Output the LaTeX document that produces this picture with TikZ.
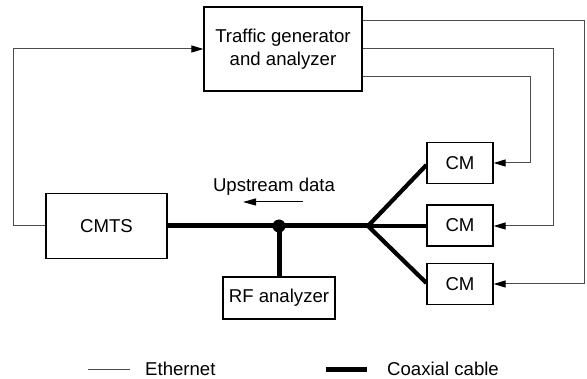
\documentclass[tikz,border=0pt]{standalone}
\usepackage{fontspec}
\setmainfont{Liberation Sans}
\usetikzlibrary{arrows.meta}
\begin{document}
\begin{tikzpicture}[x=1pt,y=-1pt,
  every node/.style={font=\fontsize{18.6}{23}\selectfont},
  box/.style={draw,line width=1.2pt,rectangle,inner sep=0pt,align=center},
  eth/.style={line width=1pt,draw=black!70},
  tip/.style={-{Triangle[length=12pt,width=7pt,color=black]}},
  coax/.style={line width=5pt},
  branch/.style={line width=4.2pt},
  lbl/.style={inner sep=0pt}]
\useasboundingbox (0,0) rectangle (587,379);
% boxes
\node[box,minimum width=158pt,minimum height=84pt] (TG) at (283,49) {Traffic generator\\and analyzer};
\node[box,minimum width=121pt,minimum height=65pt] (CMTS) at (106.5,226) {CMTS};
\node[box,minimum width=112pt,minimum height=42pt] (RF) at (279,298) {RF analyzer};
\node[box,minimum width=66pt,minimum height=41pt] (CM1) at (460,163) {CM};
\node[box,minimum width=66pt,minimum height=41pt] (CM2) at (460,225.5) {CM};
\node[box,minimum width=66pt,minimum height=41pt] (CM3) at (460,284) {CM};
% coax
\coordinate (J) at (368,226);
\coordinate (D) at (279,226);
\draw[coax] (CMTS.east |- J) -- (J);
\draw[branch] (J) -- ([yshift=-2pt]CM1.west);
\draw[branch] (J) -- (CM2.west |- J);
\draw[branch] (J) -- ([yshift=1pt]CM3.west);
\draw[coax] (D) -- (D |- RF.north);
\fill (D) circle[radius=6.5pt];
% upstream
\node[lbl] (up) at (274,187) {Upstream data};
\coordinate (ua) at (303,202);
\coordinate (ub) at (243,202);
\draw[line width=1pt,-{Triangle[length=13pt,width=7pt]}] (ua) -- (ub);
% ethernet
\coordinate (y21) at (0,21);
\coordinate (y77) at (0,77);
\coordinate (x584) at (584,0);
\coordinate (x553) at (553,0);
\coordinate (x530) at (530,0);
\coordinate (x13) at (13,0);
\draw[eth,tip] (TG.east |- y21) -| (x584 |- CM3.east) -- (CM3.east);
\draw[eth,tip] (TG.east) -| (x553 |- J) -- (CM2.east |- J);
\draw[eth,tip] (TG.east |- y77) -| (x530 |- CM1.east) -- (CM1.east);
\draw[eth,tip] (CMTS.west) -| (x13 |- TG.west) -- (TG.west);
% legend
\coordinate (e1) at (88,370);
\coordinate (e2) at (130,370);
\coordinate (c1) at (326,370);
\coordinate (c2) at (367,370);
\draw[eth] (e1) -- (e2);
\draw[line width=5pt] (c1) -- (c2);
\node[lbl,anchor=west] (le) at (145,369) {Ethernet};
\node[lbl,anchor=west] (lc) at (387,369) {Coaxial cable};
\end{tikzpicture}
\end{document}
